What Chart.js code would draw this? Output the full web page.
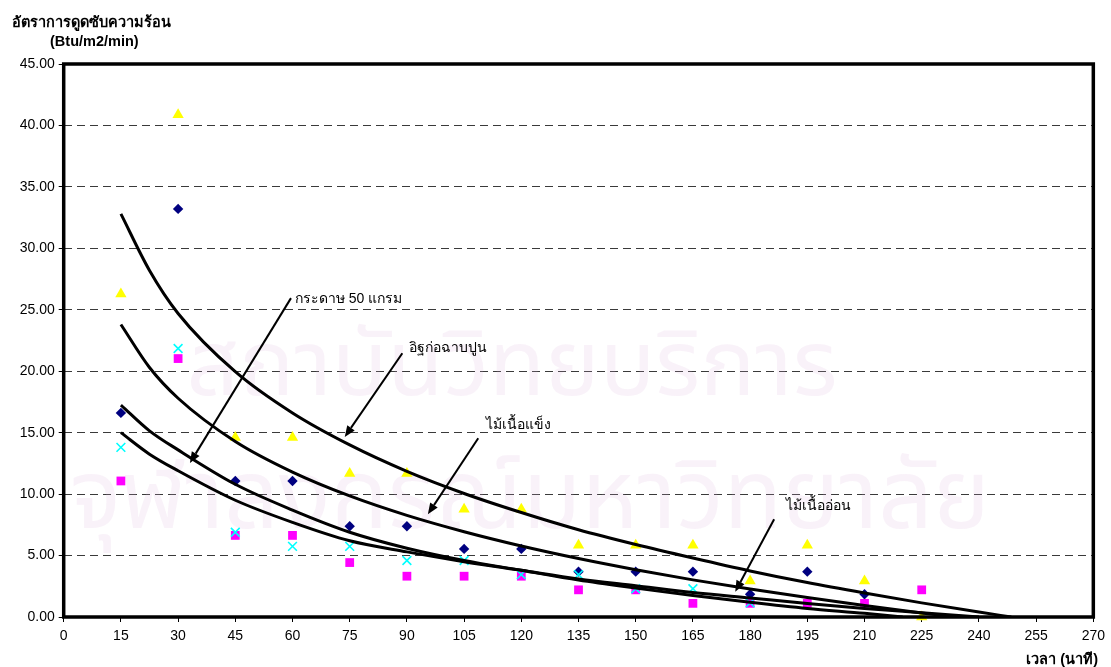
<!DOCTYPE html>
<html>
<head>
<meta charset="utf-8">
<script src="https://cdn.jsdelivr.net/npm/chart.js@4.4.1/dist/chart.umd.min.js"></script>
<style>
  html, body { margin: 0; padding: 0; background: #fff; }
  #wrap { width: 1111px; height: 667px; position: relative; }
</style>
</head>
<body>
<div id="wrap"><canvas id="c"></canvas></div>
<script>
// Measurement times (minutes)
const timeMin = [15, 30, 45, 60, 75, 90, 105, 120, 135, 150, 165, 180, 195, 210, 225];

// Measured heat absorption rates (Btu/m2/min) for each material sample
const triangleVals = [26.28, 40.88, 14.60, 14.60, 11.68, 11.68, 8.76, 8.76, 5.84, 5.84, 5.84, 2.92, 5.84, 2.92, 0.00];
const diamondVals  = [16.61, 33.21, 11.07, 11.07, 7.38, 7.38, 5.54, 5.54, 3.69, 3.69, 3.69, 1.85, 3.69, 1.85, null];
const crossVals    = [13.80, 21.85, 6.90, 5.75, 5.75, 4.60, 4.60, 3.45, 3.45, 2.30, 2.30, 1.15, null, null, null];
const squareVals   = [11.07, 21.03, 6.64, 6.64, 4.43, 3.32, 3.32, 3.32, 2.21, 2.21, 1.11, 1.11, 1.11, 1.11, 2.21];

// Trend curves (time, rate)
const trend1X = [15, 22.5, 30, 45, 60, 75, 90, 105, 120, 135, 150, 165, 180, 195, 210, 225, 240, 248.5];
const trend1Y = [32.8, 28.2, 24.7, 19.96, 16.6, 14.0, 11.85, 10.05, 8.5, 7.1, 5.9, 4.8, 3.75, 2.8, 1.95, 1.15, 0.4, 0];
const trend2X = [15, 22.5, 30, 45, 60, 75, 90, 105, 120, 135, 150, 165, 180, 195, 210, 225, 234];
const trend2Y = [23.8, 20.3, 17.8, 14.28, 11.79, 9.85, 8.27, 6.94, 5.78, 4.76, 3.85, 3.02, 2.27, 1.58, 0.93, 0.33, 0];
const trend3X = [15, 22.5, 30, 45, 60, 75, 90, 105, 120, 135, 150, 165, 180, 195, 210, 220];
const trend3Y = [17.25, 15.15, 13.6, 10.8, 8.7, 6.9, 5.6, 4.6, 3.8, 3.0, 2.35, 1.75, 1.2, 0.7, 0.3, 0];
const trend4X = [15, 22.5, 30, 45, 60, 75, 90, 105, 120, 135, 150, 165, 180, 195, 210, 225, 240];
const trend4Y = [15.0, 13.25, 11.9, 9.5, 7.7, 6.2, 5.3, 4.5, 3.8, 3.1, 2.55, 2.0, 1.55, 1.1, 0.7, 0.35, 0];

// Axis settings
const xMin = 0, xMax = 270, xStep = 15;
const yMin = 0, yMax = 45, yStep = 5;

// Callout labels: text, arrow start and arrow tip (data units), text anchor
const calloutText = ['กระดาษ 50 แกรม', 'อิฐก่อฉาบปูน', 'ไม้เนื้อแข็ง', 'ไม้เนื้ออ่อน'];
const calloutFrom = [[59.6, 25.95], [88.8, 21.46], [108.7, 14.54], [186.3, 7.95]];
const calloutTip  = [[33.1, 12.53], [73.7, 14.65], [95.5, 8.36], [176.1, 2.06]];
const calloutTextAt = [[60.1, 25.9], [90.0, 21.9], [110.2, 15.6], [188.9, 9.0]];

const yTitle = ['อัตราการดูดซับความร้อน', '(Btu/m2/min)'];
const xTitle = 'เวลา (นาที)';
const watermark = ['สถาบันวิทยบริการ', 'จุฬาลงกรณ์มหาวิทยาลัย'];

const FONT = '"Liberation Sans", Arial, "DejaVu Sans", sans-serif';

function pts(xs, ys) {
  const out = [];
  for (let i = 0; i < xs.length; i++) {
    if (ys[i] !== null && ys[i] !== undefined) out.push({ x: xs[i], y: ys[i] });
  }
  return out;
}

function markerSet(vals, style, color, radius, extra) {
  return Object.assign({
    type: 'scatter',
    data: pts(timeMin, vals),
    pointStyle: style,
    pointRadius: radius,
    pointHoverRadius: radius,
    backgroundColor: color,
    borderColor: color,
    borderWidth: 0,
    clip: false,
    order: 5
  }, extra || {});
}

function trendSet(xs, ys) {
  return {
    type: 'line',
    data: pts(xs, ys),
    borderColor: '#000',
    borderWidth: 3,
    pointRadius: 0,
    fill: false,
    cubicInterpolationMode: 'monotone',
    order: 1
  };
}

// Light background lettering behind the plot
const backdrop = {
  id: 'backdrop',
  beforeDatasetsDraw(chart) {
    const ctx = chart.ctx;
    ctx.save();
    ctx.fillStyle = 'rgba(215, 175, 215, 0.16)';
    ctx.textAlign = 'center';
    ctx.textBaseline = 'alphabetic';
    ctx.font = '92px "Noto Sans Thai", "DejaVu Sans", "Noto Sans", sans-serif';
    ctx.fillText(watermark[0], 512, 395);
    ctx.font = '96px "Noto Sans Thai", "DejaVu Sans", "Noto Sans", sans-serif';
    ctx.fillText(watermark[1], 530, 528);
    ctx.restore();
  }
};

// Frame, titles and callout arrows
const decorations = {
  id: 'decorations',
  afterDatasetsDraw(chart) {
    const ctx = chart.ctx;
    const xs = chart.scales.x, ys = chart.scales.y;
    const a = chart.chartArea;
    ctx.save();

    // thick plot frame
    ctx.strokeStyle = '#000';
    ctx.lineWidth = 3.5;
    ctx.strokeRect(a.left, a.top, a.right - a.left, a.bottom - a.top);

    // callouts
    ctx.lineWidth = 2;
    ctx.fillStyle = '#000';
    for (let i = 0; i < calloutText.length; i++) {
      const x0 = xs.getPixelForValue(calloutFrom[i][0]);
      const y0 = ys.getPixelForValue(calloutFrom[i][1]);
      const x1 = xs.getPixelForValue(calloutTip[i][0]);
      const y1 = ys.getPixelForValue(calloutTip[i][1]);
      const ang = Math.atan2(y1 - y0, x1 - x0);
      const headLen = 11, headHalf = 4.5;
      const bx = x1 - headLen * Math.cos(ang), by = y1 - headLen * Math.sin(ang);
      ctx.beginPath();
      ctx.moveTo(x0, y0);
      ctx.lineTo(bx, by);
      ctx.stroke();
      ctx.beginPath();
      ctx.moveTo(x1, y1);
      ctx.lineTo(bx + headHalf * Math.sin(ang), by - headHalf * Math.cos(ang));
      ctx.lineTo(bx - headHalf * Math.sin(ang), by + headHalf * Math.cos(ang));
      ctx.closePath();
      ctx.fill();

      ctx.font = '14px ' + FONT;
      ctx.textAlign = 'left';
      ctx.textBaseline = 'middle';
      ctx.fillText(calloutText[i], xs.getPixelForValue(calloutTextAt[i][0]) + 2, ys.getPixelForValue(calloutTextAt[i][1]));
    }

    // axis titles
    ctx.font = 'bold 14.5px ' + FONT;
    ctx.textBaseline = 'alphabetic';
    ctx.textAlign = 'left';
    ctx.fillText(yTitle[0], 12, 27);
    ctx.fillText(yTitle[1], 50, 46);
    ctx.textAlign = 'right';
    ctx.fillText(xTitle, 1098, 664);
    ctx.restore();
  }
};

new Chart(document.getElementById('c'), {
  data: {
    datasets: [
      trendSet(trend1X, trend1Y),
      trendSet(trend2X, trend2Y),
      trendSet(trend3X, trend3Y),
      trendSet(trend4X, trend4Y),
      markerSet(crossVals, 'crossRot', '#00FFFF', 6.2, { borderWidth: 1.6, order: 2 }),
      markerSet(squareVals, 'rect', '#FF00FF', 6.2, { order: 3 }),
      markerSet(diamondVals, 'rectRot', '#000080', 5.2, { order: 4 }),
      markerSet(triangleVals, 'triangle', '#FFFF00', 6.5, { order: 5 })
    ]
  },
  options: {
    responsive: true,
    maintainAspectRatio: false,
    animation: false,
    events: [],
    layout: { padding: { top: 64, right: 16, left: 0, bottom: 0 } },
    plugins: { legend: { display: false }, tooltip: { enabled: false }, title: { display: false } },
    scales: {
      x: {
        type: 'linear',
        min: xMin, max: xMax,
        afterFit(scale) { scale.height = 50; },
        ticks: {
          stepSize: xStep,
          autoSkip: false,
          maxRotation: 0,
          padding: 6,
          color: '#000',
          font: { family: FONT, size: 14 },
          callback: v => String(v)
        },
        grid: {
          drawOnChartArea: false,
          drawTicks: true,
          tickLength: 5,
          tickColor: '#000',
          lineWidth: 1
        },
        border: { display: false }
      },
      y: {
        type: 'linear',
        min: yMin, max: yMax,
        afterFit(scale) { scale.width = 63.7; },
        ticks: {
          stepSize: yStep,
          autoSkip: false,
          padding: 4,
          color: '#000',
          font: { family: FONT, size: 14 },
          callback: v => Number(v).toFixed(2)
        },
        grid: {
          color: '#3a3a3a',
          lineWidth: 1,
          tickBorderDash: [],
          tickColor: '#000',
          tickLength: 5,
          drawTicks: true
        },
        border: { display: false, dash: [8, 5] }
      }
    }
  },
  plugins: [backdrop, decorations]
});
</script>
</body>
</html>
